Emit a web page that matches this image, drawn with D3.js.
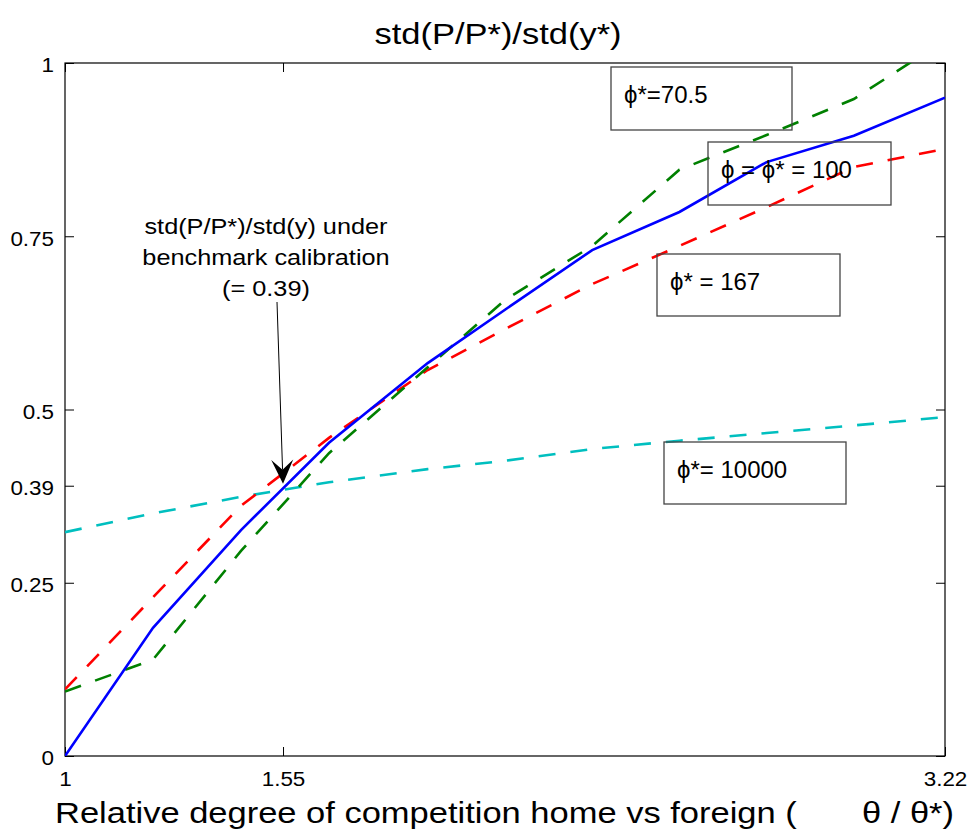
<!DOCTYPE html>
<html>
<head>
<meta charset="utf-8">
<script src="https://cdn.jsdelivr.net/npm/d3@7"></script>
<style>
  body { margin: 0; background: #fff; }
  svg { font-family: "Liberation Sans", Arial, sans-serif; }
</style>
</head>
<body>
<svg id="chart" width="969" height="832"></svg>
<script>
// relative competition theta / theta*
const xs = [1, 1.222, 1.444, 1.666, 1.915, 2.11, 2.33, 2.55, 2.77, 2.99, 3.22];

// std(P/P*)/std(y*) for each phi*
const phi100 = [0, 0.185, 0.326, 0.452, 0.567, 0.644, 0.730, 0.785, 0.857, 0.895, 0.950];
const phi70 = [0.093, 0.139, 0.296, 0.437, 0.561, 0.658, 0.736, 0.846, 0.896, 0.948, 1.033];
const phi167 = [0.096, 0.229, 0.361, 0.459, 0.557, 0.616, 0.681, 0.736, 0.792, 0.850, 0.876];
const phi10000 = [0.323, 0.350, 0.374, 0.395, 0.414, 0.426, 0.443, 0.455, 0.466, 0.477, 0.489];

const xTicks = [1, 1.55, 3.22];
const yTicks = [0, 0.25, 0.39, 0.5, 0.75, 1];

// benchmark point the arrow points at
const benchX = 1.55, benchY = 0.39;

const svg = d3.select('#chart');
const pLeft = 65, pRight = 945, pTop = 63, pBottom = 756;
const wide = 1.15; // text in the original is a bit wider than Arial

const x = d3.scaleLinear().domain([1, 3.22]).range([pLeft, pRight]);
const y = d3.scaleLinear().domain([0, 1]).range([pBottom, pTop]);

// stretch text horizontally about its anchor point
function stretch(sel) {
  sel.attr('transform', function () {
    const ax = +this.getAttribute('x') || 0;
    return `translate(${ax},0) scale(${wide},1) translate(${-ax},0)`;
  });
}

svg.append('defs').append('clipPath').attr('id', 'plot')
  .append('rect')
  .attr('x', pLeft).attr('y', pTop)
  .attr('width', pRight - pLeft).attr('height', pBottom - pTop);

// axes, ticks pointing inward
const fmt = d => String(d);
const yAxis = svg.append('g').attr('transform', `translate(${pLeft},0)`)
  .call(d3.axisLeft(y).tickValues(yTicks).tickSize(-9).tickPadding(11).tickFormat(fmt));
svg.append('g').attr('transform', `translate(${pRight},0)`)
  .call(d3.axisRight(y).tickValues(yTicks).tickSize(-9).tickFormat(''));
svg.append('g').attr('transform', `translate(0,${pBottom})`)
  .call(d3.axisBottom(x).tickValues(xTicks).tickSize(-9).tickPadding(16).tickFormat(fmt));
svg.append('g').attr('transform', `translate(0,${pTop})`)
  .call(d3.axisTop(x).tickValues(xTicks).tickSize(-9).tickFormat(''));

svg.selectAll('.domain').remove();
svg.selectAll('.tick line').attr('stroke', '#000');
svg.selectAll('.tick text')
  .attr('fill', '#000')
  .style('font-size', '19.5px')
  .style('font-family', '"Liberation Sans", Arial, sans-serif')
  .call(stretch);
yAxis.selectAll('.tick text').attr('dy', '0.45em');

svg.append('rect')
  .attr('x', pLeft).attr('y', pTop)
  .attr('width', pRight - pLeft).attr('height', pBottom - pTop)
  .attr('fill', 'none').attr('stroke', '#000').attr('stroke-width', 1.2);

// curves
const series = [
  { values: phi10000, color: '#00bfbf', dash: '17,15' },
  { values: phi167, color: '#ff0000', dash: '17,15' },
  { values: phi70, color: '#008000', dash: '17,15' },
  { values: phi100, color: '#0000ff', dash: null }
];

const line = d3.line()
  .x((d, i) => x(xs[i]))
  .y(d => y(d));

svg.append('g').attr('clip-path', 'url(#plot)')
  .selectAll('path')
  .data(series)
  .join('path')
    .attr('d', d => line(d.values))
    .attr('fill', 'none')
    .attr('stroke', d => d.color)
    .attr('stroke-width', 2.6)
    .attr('stroke-dasharray', d => d.dash);

// title and x label
svg.append('text')
  .attr('x', 498).attr('y', 44)
  .attr('text-anchor', 'middle')
  .style('font-size', '30px')
  .text('std(P/P*)/std(y*)')
  .call(stretch);

svg.append('text')
  .attr('x', 55).attr('y', 823)
  .style('font-size', '30px')
  .text('Relative degree of competition home vs foreign (')
  .call(stretch);
svg.append('text')
  .attr('x', 862).attr('y', 823)
  .style('font-size', '30px')
  .text('θ / θ*)')
  .call(stretch);

// annotation text with arrow
const note = svg.append('text')
  .attr('x', 266)
  .attr('text-anchor', 'middle')
  .style('font-size', '22px');
['std(P/P*)/std(y) under', 'benchmark calibration', '(= 0.39)'].forEach((t, i) => {
  note.append('tspan').attr('x', 266).attr('y', 234 + i * 31).text(t);
});
note.call(stretch);

const tipX = x(benchX), tipY = y(benchY) - 2;
const startX = 277, startY = 302;
const ang = Math.atan2(tipY - startY, tipX - startX);
const hl = 24, hw = 11, notch = 14;
const back = (d, s) => [tipX - d * Math.cos(ang) - s * Math.sin(ang), tipY - d * Math.sin(ang) + s * Math.cos(ang)];

svg.append('line')
  .attr('x1', startX).attr('y1', startY)
  .attr('x2', back(notch, 0)[0]).attr('y2', back(notch, 0)[1])
  .attr('stroke', '#000').attr('stroke-width', 1);

svg.append('path')
  .attr('d', 'M' + [[tipX, tipY], back(hl, hw), back(notch, 0), back(hl, -hw)].map(p => p.join(',')).join('L') + 'Z')
  .attr('fill', '#000');

// phi* labels in boxes
const boxes = [
  { x: 611, y: 67, w: 181, h: 63, label: 'ϕ*=70.5' },
  { x: 708, y: 142, w: 183, h: 63, label: 'ϕ = ϕ* = 100' },
  { x: 657, y: 254, w: 183, h: 62, label: 'ϕ* = 167' },
  { x: 664, y: 442, w: 182, h: 62, label: 'ϕ*= 10000' }
];

const bg = svg.selectAll('g.box')
  .data(boxes)
  .join('g')
    .attr('class', 'box');

bg.append('rect')
  .attr('x', d => d.x).attr('y', d => d.y)
  .attr('width', d => d.w).attr('height', d => d.h)
  .attr('fill', 'none')
  .attr('stroke', '#444')
  .attr('stroke-width', 1.3);

bg.append('text')
  .attr('x', d => d.x + 13)
  .attr('y', d => d.y + 36)
  .style('font-size', '24px')
  .text(d => d.label);
</script>
</body>
</html>
